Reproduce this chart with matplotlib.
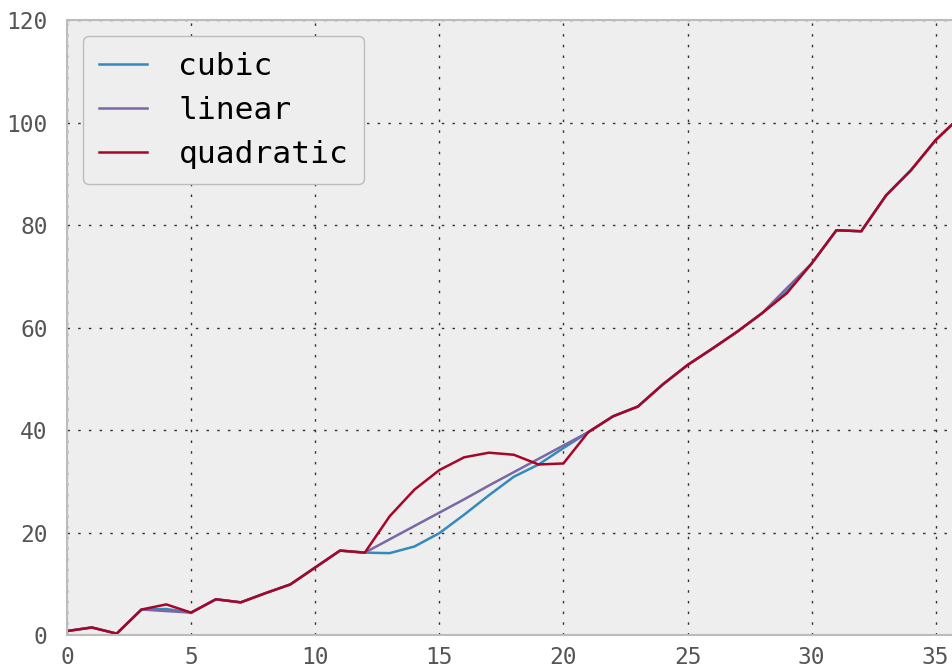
import matplotlib
matplotlib.use("Agg")
import matplotlib.pyplot as plt

# values
x = list(range(37))

cubic = [0.8, 1.5, 0.3, 5.0, 5.1, 4.4, 7.0, 6.4, 8.2, 9.9, 13.2, 16.5, 16.1,
         16.0, 17.3, 19.9, 23.5, 27.3, 30.9, 33.3, 36.5,
         39.6, 42.7, 44.6, 48.9, 52.7, 55.9, 59.2, 62.8, 67.0, 72.5,
         79.0, 78.8, 85.8, 90.7, 96.6, 101.2]

linear = [0.8, 1.5, 0.3, 5.0, 4.7, 4.4, 7.0, 6.4, 8.2, 9.9, 13.2, 16.5, 16.1,
          18.7, 21.3, 23.9, 26.5, 29.2, 31.8, 34.4, 37.0,
          39.6, 42.7, 44.6, 48.9, 52.7, 55.9, 59.2, 62.8, 67.7, 72.5,
          79.0, 78.8, 85.8, 90.7, 96.6, 101.2]

quadratic = [0.8, 1.5, 0.3, 5.0, 6.0, 4.4, 7.0, 6.4, 8.2, 9.9, 13.2, 16.5, 16.1,
             23.2, 28.4, 32.2, 34.7, 35.6, 35.2, 33.3, 33.5,
             39.6, 42.7, 44.6, 48.9, 52.7, 55.9, 59.2, 62.8, 66.7, 72.5,
             79.0, 78.8, 85.8, 90.7, 96.6, 101.2]

series = [("cubic", cubic, "#348ABD"),
          ("linear", linear, "#7A68A6"),
          ("quadratic", quadratic, "#A60628")]

plt.rcParams["font.family"] = ["DejaVu Sans Mono"]

fig = plt.figure(figsize=(9.53, 6.7), dpi=100)
ax = fig.add_axes([0.0703, 0.052, 0.9376, 0.918])
ax.set_facecolor("#eeeeee")

for name, vals, col in series:
    ax.plot(x, vals, color=col, lw=1.8, label=name)

ax.set_xlim(0, 36)
ax.set_ylim(0, 120)
ax.set_xticks(range(0, 40, 5))
ax.set_yticks(range(0, 140, 20))

# sparse dotted grid
ax.grid(True, linestyle=(0, (1.8, 5.9)), color="#333333", linewidth=1.0)
ax.set_axisbelow(True)

for side in ["top", "bottom", "left", "right"]:
    ax.spines[side].set_color("#bcbcbc")
    ax.spines[side].set_linewidth(1.5)

ax.tick_params(axis="both", length=0, labelsize=16.5, labelcolor="#555555")
ax.tick_params(axis="y", pad=14)
ax.tick_params(axis="x", pad=8)

leg = ax.legend(loc="upper left", fontsize=22.5, frameon=True, fancybox=True,
                borderpad=0.5, labelspacing=0.48, handlelength=1.55,
                handletextpad=1.0, borderaxespad=0,
                bbox_to_anchor=(0.018, 0.974))
leg.get_frame().set_facecolor("#eeeeee")
leg.get_frame().set_edgecolor("#bcbcbc")
leg.get_frame().set_alpha(1.0)

plt.savefig("out.png", dpi=100)
